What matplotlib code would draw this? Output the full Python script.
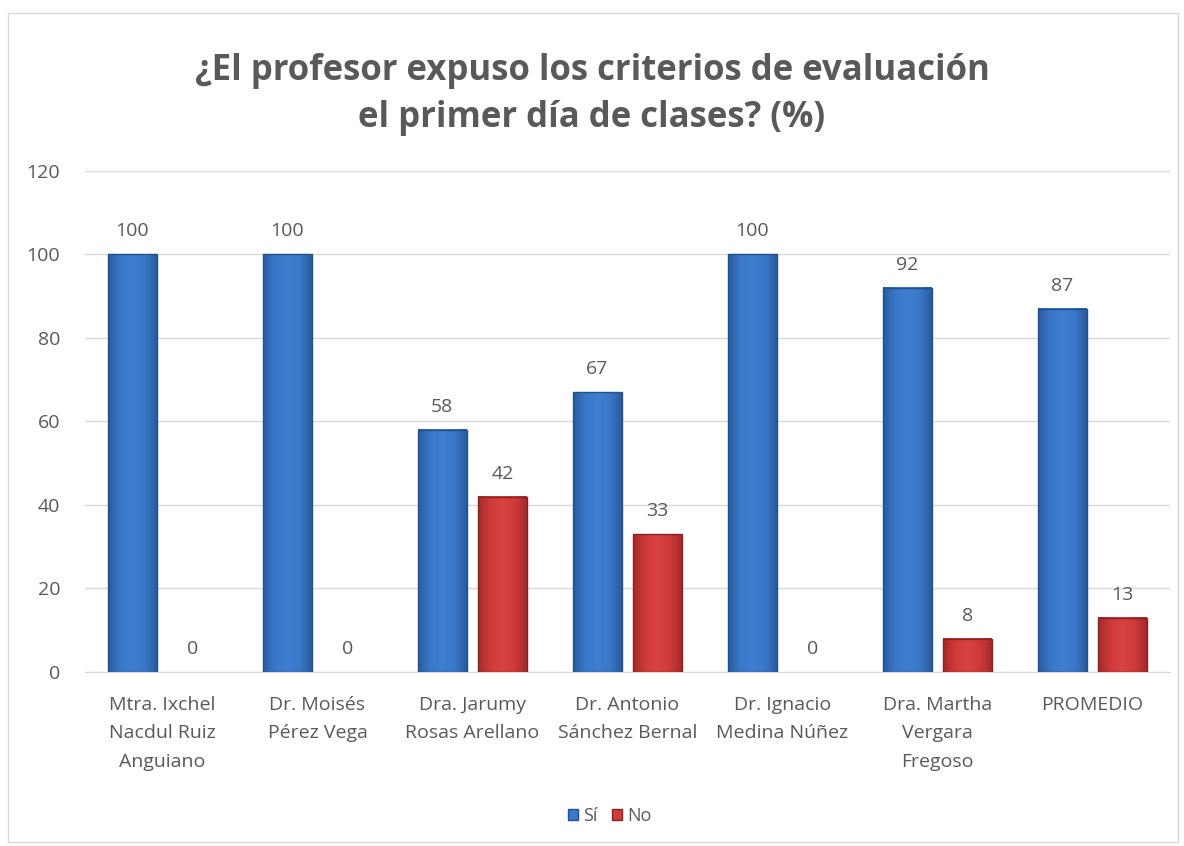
import numpy as np
import matplotlib
matplotlib.use("Agg")
import matplotlib.pyplot as plt
from matplotlib.patches import Rectangle, Patch
from matplotlib.colors import LinearSegmentedColormap

# Data
categories = [
    "Mtra. Ixchel\nNacdul Ruiz\nAnguiano",
    "Dr. Moisés\nPérez Vega",
    "Dra. Jarumy\nRosas Arellano",
    "Dr. Antonio\nSánchez Bernal",
    "Dr. Ignacio\nMedina Núñez",
    "Dra. Martha\nVergara\nFregoso",
    "PROMEDIO",
]
si_values = [100, 100, 58, 67, 100, 92, 87]
no_values = [0, 0, 42, 33, 0, 8, 13]
series_names = ["Sí", "No"]
yticks = [0, 20, 40, 60, 80, 100, 120]

plt.rcParams["font.family"] = ["Open Sans", "DejaVu Sans"]
text_gray = "#595959"

blue_cmap = LinearSegmentedColormap.from_list("b", ["#2a5c9e", "#3a78c9", "#3f7fd0", "#3a78c9", "#2a5c9e"])
red_cmap = LinearSegmentedColormap.from_list("r", ["#a52a2a", "#d03a3a", "#d84242", "#d03a3a", "#a52a2a"])

fig = plt.figure(figsize=(11.84, 8.46), dpi=100)
ax = fig.add_axes([0.0718, 0.2057, 0.9162, 0.5922])

x = np.arange(len(categories))
w = 0.316
off = 0.194
grad = np.linspace(0, 1, 64).reshape(1, -1)

# bars drawn as gradient images + outline (mimics the Excel bevel look)
for vals, shift, cmap, edge in [(si_values, -off, blue_cmap, "#24508a"),
                                (no_values, off, red_cmap, "#862222")]:
    for xi, v in zip(x, vals):
        if v > 0:
            x0 = xi + shift - w / 2
            ax.imshow(grad, extent=[x0, x0 + w, 0, v], aspect="auto", cmap=cmap,
                      zorder=3, interpolation="bicubic")
            ax.add_patch(Rectangle((x0, 0), w, v, fill=False, edgecolor=edge,
                                   linewidth=1.0, zorder=4))
        ax.annotate(f"{v}", (xi + shift, v), xytext=(0, 13), textcoords="offset points",
                    ha="center", va="baseline", fontsize=14, color=text_gray)

ax.set_xlim(-0.5, len(categories) - 0.5)
ax.set_ylim(0, 120)
ax.set_yticks(yticks)
ax.set_xticks(x)
ax.set_xticklabels(categories, fontsize=14, color=text_gray, linespacing=1.75,
                   va="top")
ax.tick_params(axis="y", labelsize=14, colors=text_gray, length=0, pad=18)
ax.tick_params(axis="x", length=0, pad=17)
ax.grid(axis="y", color="#d9d9d9", linewidth=1.0, zorder=0)
ax.set_axisbelow(True)
for s in ["top", "right", "left"]:
    ax.spines[s].set_visible(False)
ax.spines["bottom"].set_color("#d9d9d9")

fig.text(0.5, 0.937, "¿El profesor expuso los criterios de evaluación\nel primer día de clases? (%)",
         ha="center", va="top", fontsize=25, fontweight="bold", color=text_gray,
         linespacing=1.4)

handles = [Patch(facecolor="#3a78c9", edgecolor="#24508a", label=series_names[0]),
           Patch(facecolor="#d03a3a", edgecolor="#862222", label=series_names[1])]
fig.legend(handles=handles, loc="center", bbox_to_anchor=(0.515, 0.036), ncol=2,
           frameon=False, fontsize=13, handlelength=0.55, handleheight=0.55,
           handletextpad=0.3, columnspacing=0.8, labelcolor=text_gray)

fig.patches.append(Rectangle((8 / 1184, 0.005), 1 - 14 / 1184, 1 - 13 / 846 - 0.005,
                             transform=fig.transFigure, fill=False,
                             edgecolor="#d9d9d9", linewidth=1.0))

fig.savefig("out.png", dpi=100)
